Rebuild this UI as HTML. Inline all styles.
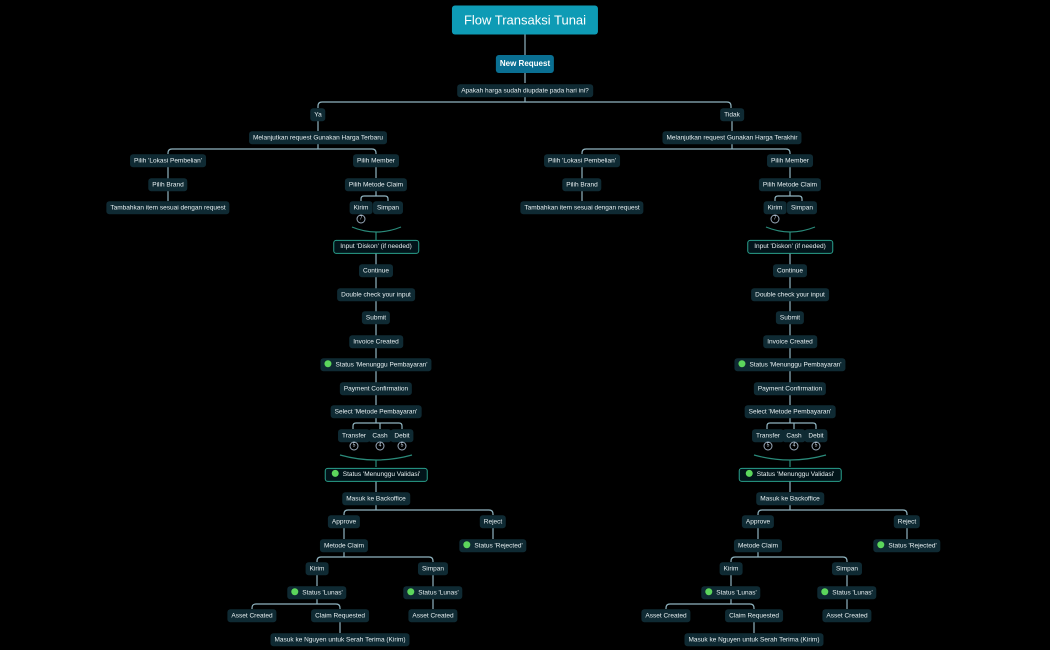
<!DOCTYPE html>
<html><head><meta charset="utf-8"><style>
body{margin:0;width:1050px;height:650px;background:#000;overflow:hidden;font-family:"Liberation Sans",sans-serif;}
.w{position:absolute;left:0;top:0;width:1050px;height:650px;}
.n{position:absolute;transform:translate(-50%,-44%);background:#0f2a33;color:#e8f0f2;font-size:6.5px;line-height:13px;height:13px;padding:0 4px;border-radius:3px;white-space:nowrap;}
.o{border:1px solid #2aa08c;background:#02141a;line-height:12px;height:12px;padding:0 6px;}
.d::before{content:"";display:inline-block;width:7px;height:7px;border-radius:50%;background:#5cd65c;vertical-align:-1px;margin-right:4px;}
.c{position:absolute;transform:translate(-50%,-50%);width:7px;height:7px;border:1px solid #9ab;border-radius:50%;color:#cde;font-size:5px;line-height:7px;text-align:center;}
</style></head><body>
<svg class="w" width="1050" height="650" style="position:absolute">
<g stroke="#8fb4c0" stroke-width="1.2" fill="none">
<path d="M525 34V55M525 73V83M525 97V102M318 108V106Q318 102 322 102H727Q731 102 731 106V108"/>
<g id="L">
<path d="M318 120V131M318 144V149M168 154V153Q168 149 172 149H372Q376 149 376 153V154M168 166V201M376 166V178M376 190V196M361 201V199Q361 196 364 196H385Q388 196 388 199V201"/>
<path d="M376 252V405M376 417V423M353 429V426Q353 423 356 423H399Q402 423 402 426V429M380 423V429"/>
<path d="M376 481V492M376 504V510M344 515V514Q344 510 348 510H489Q493 510 493 514V515M493 527V539M344 527V539M344 551V557M317 562V561Q317 557 321 557H429Q433 557 433 561V562M317 574V586M433 574V609M317 598V604M252 609V608Q252 604 256 604H336Q340 604 340 608V609M340 621V633"/>
<path d="M376 232V240M376 460V467" stroke="#2a8a7a"/>
<path d="M352 227Q376 237 401 227M340 455Q376 465 412 455" stroke="#2a8a7a"/>
</g>
<g transform="translate(414,0)">
<path d="M318 120V131M318 144V149M168 154V153Q168 149 172 149H372Q376 149 376 153V154M168 166V201M376 166V178M376 190V196M361 201V199Q361 196 364 196H385Q388 196 388 199V201"/>
<path d="M376 252V405M376 417V423M353 429V426Q353 423 356 423H399Q402 423 402 426V429M380 423V429"/>
<path d="M376 481V492M376 504V510M344 515V514Q344 510 348 510H489Q493 510 493 514V515M493 527V539M344 527V539M344 551V557M317 562V561Q317 557 321 557H429Q433 557 433 561V562M317 574V586M433 574V609M317 598V604M252 609V608Q252 604 256 604H336Q340 604 340 608V609M340 621V633"/>
<path d="M376 232V240M376 460V467" stroke="#2a8a7a"/>
<path d="M352 227Q376 237 401 227M340 455Q376 465 412 455" stroke="#2a8a7a"/>
</g>
</g></svg>
<div class="n" style="left:525px;top:19.5px;transform:translate(-50%,-50%);height:29px;line-height:29px;font-size:13px;padding:0 12px;background:#0e9bb5;color:#fff;border-radius:3px">Flow Transaksi Tunai</div>
<div class="n" style="left:525px;top:64px;transform:translate(-50%,-50%);height:18px;line-height:18px;font-size:8px;font-weight:bold;background:#0a6f92;color:#fff">New Request</div>
<div class="n" style="left:525px;top:90px">Apakah harga sudah diupdate pada hari ini?</div>

<div class="w">
<div class="n" style="left:318px;top:114px">Ya</div>
<div class="n" style="left:318px;top:137px">Melanjutkan request Gunakan Harga Terbaru</div>
<div class="n" style="left:168px;top:160px">Pilih 'Lokasi Pembelian'</div>
<div class="n" style="left:168px;top:184px">Pilih Brand</div>
<div class="n" style="left:168px;top:207px">Tambahkan item sesuai dengan request</div>
<div class="n" style="left:376px;top:160px">Pilih Member</div>
<div class="n" style="left:376px;top:184px">Pilih Metode Claim</div>
<div class="n" style="left:361px;top:207px">Kirim</div>
<div class="n" style="left:388px;top:207px">Simpan</div>
<div class="c" style="left:361px;top:219px">7</div>
<div class="n o" style="left:376px;top:246px">Input 'Diskon' (if needed)</div>
<div class="n" style="left:376px;top:270px">Continue</div>
<div class="n" style="left:376px;top:294px">Double check your input</div>
<div class="n" style="left:376px;top:317px">Submit</div>
<div class="n" style="left:376px;top:341px">Invoice Created</div>
<div class="n d" style="left:376px;top:364px">Status 'Menunggu Pembayaran'</div>
<div class="n" style="left:376px;top:388px">Payment Confirmation</div>
<div class="n" style="left:376px;top:411px">Select 'Metode Pembayaran'</div>
<div class="n" style="left:354px;top:435px">Transfer</div>
<div class="n" style="left:380px;top:435px">Cash</div>
<div class="n" style="left:402px;top:435px">Debit</div>
<div class="c" style="left:354px;top:446px">5</div>
<div class="c" style="left:380px;top:446px">4</div>
<div class="c" style="left:402px;top:446px">5</div>
<div class="n o d" style="left:376px;top:474px">Status 'Menunggu Validasi'</div>
<div class="n" style="left:376px;top:498px">Masuk ke Backoffice</div>
<div class="n" style="left:344px;top:521px">Approve</div>
<div class="n" style="left:493px;top:521px">Reject</div>
<div class="n d" style="left:493px;top:545px">Status 'Rejected'</div>
<div class="n" style="left:344px;top:545px">Metode Claim</div>
<div class="n" style="left:317px;top:568px">Kirim</div>
<div class="n" style="left:433px;top:568px">Simpan</div>
<div class="n d" style="left:317px;top:592px">Status 'Lunas'</div>
<div class="n d" style="left:433px;top:592px">Status 'Lunas'</div>
<div class="n" style="left:252px;top:615px">Asset Created</div>
<div class="n" style="left:340px;top:615px">Claim Requested</div>
<div class="n" style="left:433px;top:615px">Asset Created</div>
<div class="n" style="left:340px;top:639px">Masuk ke Nguyen untuk Serah Terima (Kirim)</div>
</div>

<div class="w" style="left:414px">
<div class="n" style="left:318px;top:114px">Tidak</div>
<div class="n" style="left:318px;top:137px">Melanjutkan request Gunakan Harga Terakhir</div>
<div class="n" style="left:168px;top:160px">Pilih 'Lokasi Pembelian'</div>
<div class="n" style="left:168px;top:184px">Pilih Brand</div>
<div class="n" style="left:168px;top:207px">Tambahkan item sesuai dengan request</div>
<div class="n" style="left:376px;top:160px">Pilih Member</div>
<div class="n" style="left:376px;top:184px">Pilih Metode Claim</div>
<div class="n" style="left:361px;top:207px">Kirim</div>
<div class="n" style="left:388px;top:207px">Simpan</div>
<div class="c" style="left:361px;top:219px">7</div>
<div class="n o" style="left:376px;top:246px">Input 'Diskon' (if needed)</div>
<div class="n" style="left:376px;top:270px">Continue</div>
<div class="n" style="left:376px;top:294px">Double check your input</div>
<div class="n" style="left:376px;top:317px">Submit</div>
<div class="n" style="left:376px;top:341px">Invoice Created</div>
<div class="n d" style="left:376px;top:364px">Status 'Menunggu Pembayaran'</div>
<div class="n" style="left:376px;top:388px">Payment Confirmation</div>
<div class="n" style="left:376px;top:411px">Select 'Metode Pembayaran'</div>
<div class="n" style="left:354px;top:435px">Transfer</div>
<div class="n" style="left:380px;top:435px">Cash</div>
<div class="n" style="left:402px;top:435px">Debit</div>
<div class="c" style="left:354px;top:446px">5</div>
<div class="c" style="left:380px;top:446px">4</div>
<div class="c" style="left:402px;top:446px">5</div>
<div class="n o d" style="left:376px;top:474px">Status 'Menunggu Validasi'</div>
<div class="n" style="left:376px;top:498px">Masuk ke Backoffice</div>
<div class="n" style="left:344px;top:521px">Approve</div>
<div class="n" style="left:493px;top:521px">Reject</div>
<div class="n d" style="left:493px;top:545px">Status 'Rejected'</div>
<div class="n" style="left:344px;top:545px">Metode Claim</div>
<div class="n" style="left:317px;top:568px">Kirim</div>
<div class="n" style="left:433px;top:568px">Simpan</div>
<div class="n d" style="left:317px;top:592px">Status 'Lunas'</div>
<div class="n d" style="left:433px;top:592px">Status 'Lunas'</div>
<div class="n" style="left:252px;top:615px">Asset Created</div>
<div class="n" style="left:340px;top:615px">Claim Requested</div>
<div class="n" style="left:433px;top:615px">Asset Created</div>
<div class="n" style="left:340px;top:639px">Masuk ke Nguyen untuk Serah Terima (Kirim)</div>
</div>
</body></html>
